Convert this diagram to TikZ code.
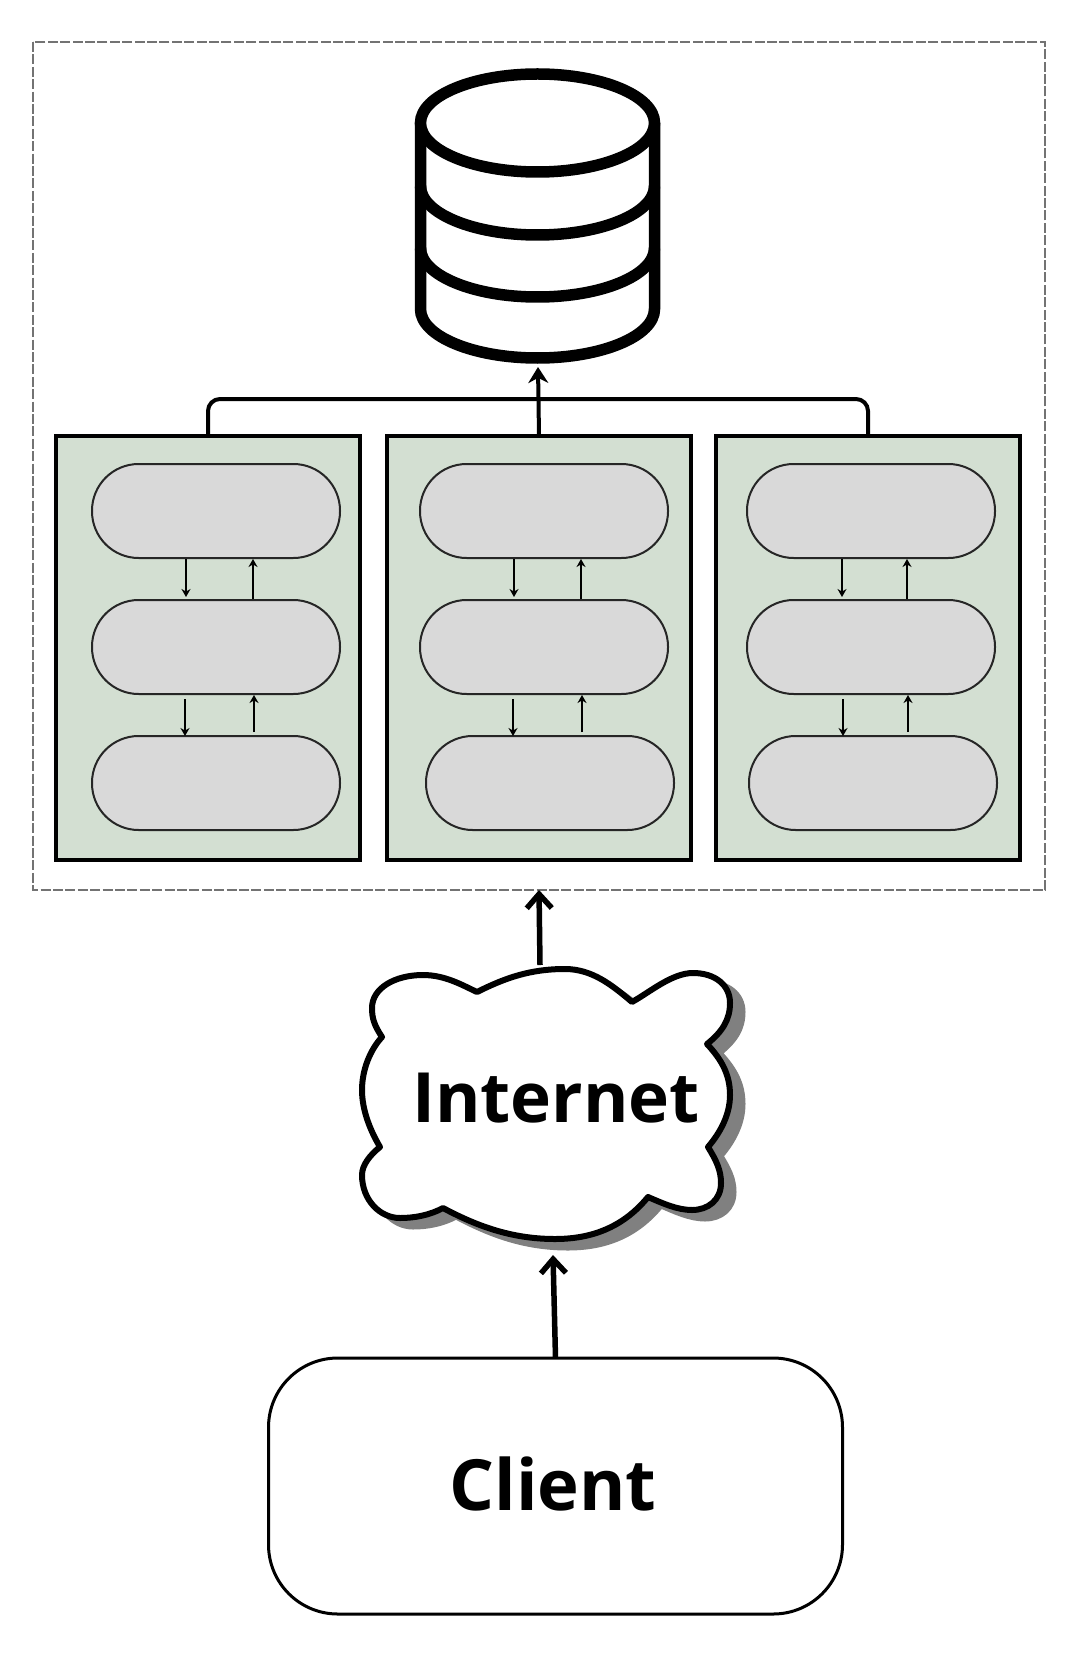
\documentclass[tikz,border=0pt]{standalone}
\usepackage{fontspec}
\setmainfont{Open Sans}
\usetikzlibrary{arrows.meta,calc}
\def\px{0.75pt}
\tikzset{
  x=0.75pt,y=-0.75pt,
  frame/.style={draw=black!55,dash pattern=on 7.5pt off 1.8pt,line width=2.6*\px},
  panel/.style={draw=black,fill=panelgreen,line width=4*\px,minimum width=304*\px,minimum height=424*\px,inner sep=0pt,outer sep=0pt},
  pill/.style={draw=black!85,fill=pillgray,line width=2*\px,rounded corners=35pt,minimum width=248*\px,minimum height=94*\px,inner sep=0pt,outer sep=0pt},
  tiny/.style={draw=black,line width=2*\px,-{Stealth[length=8*\px,width=9*\px]}},
  bus/.style={draw=black,line width=4*\px,rounded corners=12*\px},
  busarrow/.style={draw=black,line width=4*\px,-{Stealth[length=16*\px,width=20*\px]}},
  bigarrow/.style={draw=black,line width=5.5*\px,-{Straight Barb[length=14*\px,width=25*\px,line width=5.5*\px]}},
  dbline/.style={draw=black,line width=11.5*\px},
  cloudline/.style={draw=black,fill=white,line width=6*\px,line join=round},
  label/.style={inner sep=0pt,text=black},
  clientbox/.style={draw=black,fill=white,line width=3*\px,rounded corners=52pt,minimum width=574*\px,minimum height=256*\px,inner sep=0pt,outer sep=0pt}
}
\definecolor{panelgreen}{HTML}{D3DFD2}
\definecolor{pillgray}{HTML}{D9D9D9}
\definecolor{cloudshadow}{HTML}{808080}
\newcommand{\cloudpath}{
  (382,1037) .. controls (374,1025) and (372,1018) .. (372,1008)
  .. controls (372,988) and (395,975) .. (423,975)
  .. controls (445,975) and (462,985) .. (477,992)
  .. controls (505,978) and (530,969) .. (565,969)
  .. controls (592,969) and (612,985) .. (632,1002)
  .. controls (650,992) and (672,973) .. (693,973)
  .. controls (715,973) and (730,985) .. (730,1003)
  .. controls (730,1020) and (722,1032) .. (707,1044)
  .. controls (722,1060) and (730,1075) .. (730,1095)
  .. controls (730,1115) and (720,1133) .. (708,1147)
  .. controls (716,1160) and (721,1170) .. (721,1183)
  .. controls (721,1200) and (708,1210) .. (692,1210)
  .. controls (677,1210) and (662,1203) .. (648,1197)
  .. controls (625,1225) and (595,1239) .. (555,1239)
  .. controls (510,1239) and (475,1225) .. (443,1208)
  .. controls (430,1215) and (415,1218) .. (400,1218)
  .. controls (380,1218) and (362,1200) .. (362,1175)
  .. controls (362,1165) and (370,1155) .. (380,1147)
  .. controls (370,1130) and (362,1110) .. (362,1090)
  .. controls (362,1070) and (370,1050) .. (382,1037) -- cycle
}
\newcommand{\armpair}[8]{% upper, lower, xdown, xup, id, gaps
  \coordinate (dn#5) at (#3,0);
  \coordinate (up#5) at (#4,0);
  \draw[tiny,shorten <=#6*\px,shorten >=#7*\px] (#1.south -| dn#5) -- (#2.north -| dn#5);
  \draw[tiny,shorten <=#8*\px,shorten >=1*\px] (#2.north -| up#5) -- (#1.south -| up#5);
}
\begin{document}
\begin{tikzpicture}
\useasboundingbox (0,0) rectangle (1080,1658);
\fill[white] (0,0) rectangle (1080,1658);
% outer frame
\draw[frame] (33,42) rectangle (1045,890);
\coordinate (frameedge) at (539,890);
% database
\coordinate (dbbottom) at (538,367);
\begin{scope}[dbline]
  \draw[fill=white] (420.5,123) -- (420.5,309) arc[start angle=180,end angle=0,x radius=117,y radius=49] -- (654.5,123);
  \draw (420.5,186) arc[start angle=180,end angle=0,x radius=117,y radius=49];
  \draw (420.5,248) arc[start angle=180,end angle=0,x radius=117,y radius=49];
  \draw[fill=white] (537.5,123) ellipse[x radius=117,y radius=49];
\end{scope}
% panels
\node[panel] (pa) at (208,647.5) {};
\node[panel] (pb) at (539,647.5) {};
\node[panel] (pc) at (868,647.5) {};
% pills
\node[pill] (a1) at (216,511) {};
\node[pill] (a2) at (216,647) {};
\node[pill] (a3) at (216,783) {};
\node[pill] (b1) at (544,511) {};
\node[pill] (b2) at (544,647) {};
\node[pill] (b3) at (550,783) {};
\node[pill] (c1) at (871,511) {};
\node[pill] (c2) at (871,647) {};
\node[pill] (c3) at (873,783) {};
% short arrows
\armpair{a1}{a2}{186}{253}{a}{1}{3}{1}
\armpair{a2}{a3}{185}{254}{b}{5}{0}{4}
\armpair{b1}{b2}{514}{581}{c}{1}{3}{1}
\armpair{b2}{b3}{513}{582}{d}{5}{0}{4}
\armpair{c1}{c2}{842}{907}{e}{1}{3}{1}
\armpair{c2}{c3}{843}{908}{f}{5}{0}{4}
% bus to the database
\coordinate (busy) at (0,399);
\draw[bus] (pa.north) -- (pa.north |- busy) -- (pc.north |- busy) -- (pc.north);
\draw[busarrow] (pb.north) -- (dbbottom);
% cloud
\draw[fill=cloudshadow,draw=cloudshadow,line width=5*\px,line join=round,shift={(13,9)}] \cloudpath;
\draw[cloudline] \cloudpath;
\node[label,font=\fontsize{52}{52}\selectfont\bfseries] (internet) at (556,1098) {Internet};
\coordinate (cloudtop) at (540,965);
\coordinate (cloudbottom) at (553,1255);
% client
\node[clientbox] (client) at (555.5,1486) {};
\node[label,font=\fontsize{53}{53}\selectfont\bfseries] (clientlabel) at (553,1484) {Client};
% big arrows
\draw[bigarrow] (cloudtop) -- (frameedge);
\draw[bigarrow] (client.north) -- (cloudbottom);
\end{tikzpicture}
\end{document}
